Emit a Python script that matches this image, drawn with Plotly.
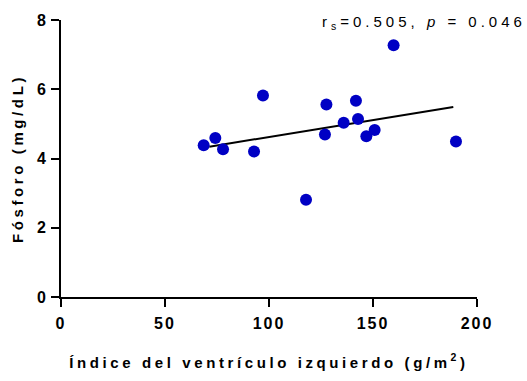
import plotly.graph_objects as go

# Data
lvmi = [68.6, 74.2, 77.9, 92.8, 97.1, 117.8, 126.9, 127.6, 135.9, 141.8, 142.8, 146.8, 150.8, 159.9, 189.9]
phosphorus = [4.38, 4.59, 4.27, 4.20, 5.82, 2.81, 4.69, 5.56, 5.03, 5.67, 5.14, 4.64, 4.82, 7.27, 4.49]
fit_x = [71.3, 188.6]
fit_y = [4.34, 5.49]
x_ticks = [0, 50, 100, 150, 200]
y_ticks = [0, 2, 4, 6, 8]

FONT = "Liberation Sans, Arial, sans-serif"

fig = go.Figure()
fig.add_trace(go.Scatter(x=fit_x, y=fit_y, mode="lines",
                         line=dict(color="black", width=2), showlegend=False))
fig.add_trace(go.Scatter(x=lvmi, y=phosphorus, mode="markers",
                         marker=dict(color="#0000C4", size=12, line=dict(width=0)),
                         showlegend=False, cliponaxis=False))

fig.update_layout(
    width=527, height=381,
    margin=dict(l=61, r=50, t=17, b=84),
    plot_bgcolor="white", paper_bgcolor="white",
    font=dict(family=FONT, color="black"),
    xaxis=dict(range=[0, 200], tickvals=x_ticks, showgrid=False, zeroline=False,
               showline=True, linecolor="black", linewidth=2,
               ticks="outside", ticklen=8, tickwidth=2, tickcolor="black",
               ticklabelstandoff=3,
               tickfont=dict(family=FONT, size=16, color="black", weight="bold"),
               title=dict(text="<b>Índice del ventrículo izquierdo (g/m<sup>2</sup>)</b>",
                          font=dict(family=FONT, size=15, color="black"), standoff=26)),
    yaxis=dict(range=[0, 8], tickvals=y_ticks, showgrid=False, zeroline=False,
               showline=True, linecolor="black", linewidth=2,
               ticks="outside", ticklen=8, tickwidth=2, tickcolor="black",
               tickfont=dict(family=FONT, size=16, color="black", weight="bold"),
               title=dict(text="<b>Fósforo (mg/dL)</b>",
                          font=dict(family=FONT, size=15, color="black"), standoff=12)),
    annotations=[dict(text="r<sub>s</sub>=0.505, <i>p</i> = 0.046",
                      xref="paper", yref="paper", x=0.872, y=0.99, xanchor="center", yanchor="middle",
                      showarrow=False, font=dict(family=FONT, size=15, color="black"))],
)

post = """
var st = document.createElement('style');
st.textContent = '.xtitle, .ytitle {letter-spacing: 3.6px;} ' +
  '.xtick text, .ytick text {letter-spacing: 2px;} ' +
  '.annotation-text {letter-spacing: 4px;}';
document.head.appendChild(st);
"""

fig.write_html("out.html", post_script=post)
